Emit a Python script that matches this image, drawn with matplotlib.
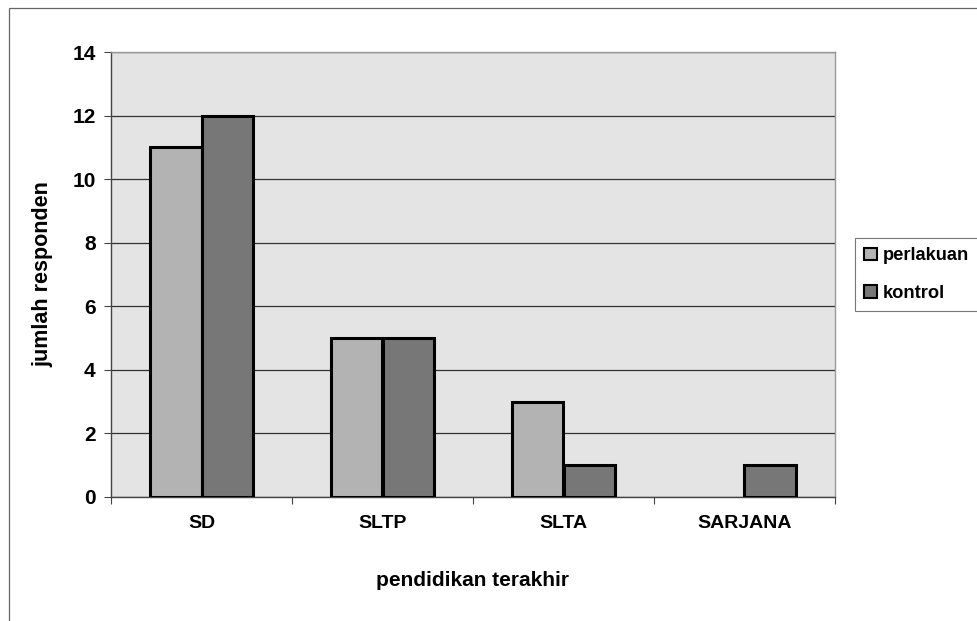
import matplotlib.pyplot as plt
import numpy as np
from matplotlib.patches import Rectangle

plt.rcParams['font.family'] = ['Liberation Sans', 'DejaVu Sans']
plt.rcParams['font.weight'] = 'bold'

categories = ['SD', 'SLTP', 'SLTA', 'SARJANA']
perlakuan = [11, 5, 3, 0]
kontrol = [12, 5, 1, 1]

fig = plt.figure(figsize=(9.77, 6.21), dpi=100)
fig.patch.set_facecolor('white')

# outer chart border (runs off the right and bottom edge)
fig.patches.append(Rectangle((9/977, -0.02), 1.0, 1 - 8/621 + 0.02,
                             transform=fig.transFigure, fill=False,
                             edgecolor='#666666', linewidth=0.9))

ax = fig.add_axes([111/977, 1 - 497/621, 724/977, 445/621])
ax.set_facecolor('#e4e4e4')

x = np.arange(len(categories))
w = 0.285
# no outline on empty bars
edge_p = ['black' if v > 0 else 'none' for v in perlakuan]
edge_k = ['black' if v > 0 else 'none' for v in kontrol]
ax.bar(x - w/2, perlakuan, w, color='#b3b3b3', edgecolor=edge_p, linewidth=2.2,
       label='perlakuan', zorder=3)
ax.bar(x + w/2, kontrol, w, color='#777777', edgecolor=edge_k, linewidth=2.2,
       label='kontrol', zorder=3)

ax.set_xlim(-0.5, len(categories) - 0.5)
ax.set_ylim(0, 14)
ax.set_yticks(range(0, 15, 2))
ax.yaxis.grid(True, color='#333333', linewidth=0.9, zorder=0)
ax.set_axisbelow(True)

ax.set_xticks(x)
ax.set_xticklabels(categories, fontsize=14)
ax.set_xticks(np.arange(-0.5, len(categories)), minor=True)
ax.tick_params(axis='x', which='major', length=0, pad=13)
ax.tick_params(axis='x', which='minor', length=5, width=0.8, color='#444444')
ax.tick_params(axis='y', length=5, width=0.8, color='#444444', labelsize=15, pad=6)

for s in ['left', 'bottom']:
    ax.spines[s].set_color('#444444')
    ax.spines[s].set_linewidth(1.0)
for s in ['top', 'right']:
    ax.spines[s].set_color('#999999')
    ax.spines[s].set_linewidth(1.0)

ax.set_ylabel('jumlah responden', fontsize=15.5, fontweight='bold', labelpad=14)
ax.set_xlabel('pendidikan terakhir', fontsize=15, fontweight='bold', labelpad=28)

leg = ax.legend(loc='center left', bbox_to_anchor=(1.027, 0.5), fontsize=13.2,
                frameon=True, fancybox=False, edgecolor='#555555',
                handlelength=0.7, handleheight=0.7, handletextpad=0.35,
                labelspacing=1.1, borderpad=0.5, borderaxespad=0)
leg.get_frame().set_linewidth(0.8)
for h in leg.legend_handles:
    h.set_linewidth(1.5)
    h.set_edgecolor('black')

fig.savefig('out.png', dpi=100)
